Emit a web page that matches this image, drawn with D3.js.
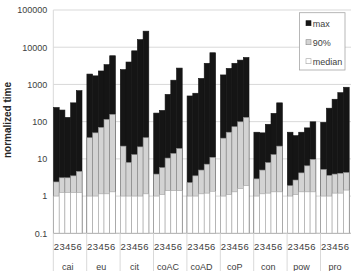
<!DOCTYPE html>
<html>
<head>
<meta charset="utf-8">
<script src="https://cdn.jsdelivr.net/npm/d3@7"></script>
<style>
    html, body { margin: 0; padding: 0; background: #fff; }
    svg { display: block; font-family: "Liberation Sans", Arial, sans-serif; }
</style>
</head>
<body>
<div id="chart"></div>
<script>
// Normalized time per benchmark, for 2..6 (max / 90th percentile / median)
const groups = ["cai", "eu", "cit", "coAC", "coAD", "coP", "con", "pow", "pro"];
const ranks = ["2", "3", "4", "5", "6"];
const yTicks = [0.1, 1, 10, 100, 1000, 10000, 100000];

const maxValues = [
    [240, 205, 130, 320, 680],
    [1900, 1700, 2300, 3400, 5900],
    [2500, 4000, 8000, 16000, 27000],
    [170, 200, 540, 1300, 2750],
    [490, 580, 1450, 3700, 7100],
    [1800, 2700, 3700, 4500, 5300],
    [52, 50, 85, 167, 320],
    [52, 42, 52, 68, 99],
    [96, 230, 400, 600, 840]
];
const p90Values = [
    [2.4, 3.1, 3.1, 3.5, 4.6],
    [37, 50, 70, 115, 157],
    [22, 8, 13, 21, 37],
    [3.9, 5.8, 10.5, 14, 19],
    [2.3, 3.5, 5, 7.2, 11],
    [36, 52, 73, 99, 130],
    [2.9, 5, 7.9, 13, 22],
    [1.9, 2.7, 4.2, 6.5, 9.7],
    [5.2, 3.6, 3.9, 4.1, 4.3]
];
const medianValues = [
    [1, 1.25, 1.25, 1.25, 1.25],
    [1, 1, 1.15, 1.15, 1.3],
    [1, 1, 1, 1, 1.15],
    [1, 1.1, 1.4, 1.4, 1.4],
    [1, 1, 1.15, 1.2, 1.35],
    [1, 1.1, 1.3, 1.6, 1.9],
    [1, 1.15, 1.2, 1.3, 1.3],
    [1, 1.1, 1.3, 1.3, 1.3],
    [1, 1, 1.2, 1.2, 1.45]
];

const series = [
    { key: "max", values: maxValues, fill: "#151515", stroke: "#151515" },
    { key: "90%", values: p90Values, fill: "#d3d3d3", stroke: "#8a8a8a" },
    { key: "median", values: medianValues, fill: "#ffffff", stroke: "#a3a3a3" }
];

const width = 351, height = 271;
const plot = { left: 53.3, right: 351, top: 10, bottom: 233.3 };

const svg = d3.select("#chart").append("svg")
    .attr("width", width)
    .attr("height", height);

const y = d3.scaleLog()
    .domain([0.1, 100000])
    .range([plot.bottom, plot.top]);

// group pitch runs a bit past the right edge (picture is cropped there)
const x0 = d3.scaleBand()
    .domain(groups)
    .range([plot.left, plot.left + 33.4 * groups.length]);

const x1 = d3.scaleBand()
    .domain(ranks)
    .range([0.2, 28.7]);

// gridlines
svg.append("g")
    .selectAll("line")
    .data(yTicks)
    .enter().append("line")
    .attr("x1", plot.left)
    .attr("x2", plot.right)
    .attr("y1", d => y(d))
    .attr("y2", d => y(d))
    .attr("stroke", "#d9d9d9")
    .attr("stroke-width", 1);

// left axis line
svg.append("line")
    .attr("x1", plot.left).attr("x2", plot.left)
    .attr("y1", y(100000)).attr("y2", y(0.1))
    .attr("stroke", "#d9d9d9");

// bars: max first, then 90%, then median on top
series.forEach(s => {
    const flat = [];
    groups.forEach((g, gi) => {
        ranks.forEach((r, ri) => flat.push({ g, r, v: s.values[gi][ri] }));
    });
    svg.append("g")
        .selectAll("rect")
        .data(flat)
        .enter().append("rect")
        .attr("x", d => x0(d.g) + x1(d.r))
        .attr("y", d => y(d.v))
        .attr("width", x1.bandwidth())
        .attr("height", d => y(0.1) - y(d.v))
        .attr("fill", s.fill)
        .attr("stroke", s.stroke)
        .attr("stroke-width", 0.6);
});

// category axis line
svg.append("line")
    .attr("x1", plot.left).attr("x2", plot.right)
    .attr("y1", y(0.1)).attr("y2", y(0.1))
    .attr("stroke", "#bfbfbf");

// group separators down to the bottom
svg.append("g")
    .selectAll("line")
    .data(groups)
    .enter().append("line")
    .attr("x1", d => x0(d))
    .attr("x2", d => x0(d))
    .attr("y1", y(0.1))
    .attr("y2", height)
    .attr("stroke", "#d9d9d9");

// y axis labels
const yAxis = d3.axisLeft(y)
    .tickValues(yTicks)
    .tickFormat(d => String(d))
    .tickSize(0)
    .tickPadding(6);

svg.append("g")
    .attr("transform", `translate(${plot.left},0)`)
    .call(yAxis)
    .call(g => g.select(".domain").remove())
    .call(g => g.selectAll("text")
        .attr("font-size", 9)
        .attr("font-family", "'Liberation Sans', Arial, sans-serif")
        .attr("fill", "#404040"));

// rank digits under each bar
const rankLabels = [];
groups.forEach(g => ranks.forEach(r => rankLabels.push({ g, r })));
svg.append("g")
    .selectAll("text")
    .data(rankLabels)
    .enter().append("text")
    .attr("x", d => x0(d.g) + x1(d.r) + x1.bandwidth() / 2)
    .attr("y", 250)
    .attr("text-anchor", "middle")
    .attr("font-size", 9.5)
    .attr("fill", "#404040")
    .text(d => d.r);

// group names
svg.append("g")
    .selectAll("text")
    .data(groups)
    .enter().append("text")
    .attr("x", d => x0(d) + 14.5)
    .attr("y", 269.5)
    .attr("text-anchor", "middle")
    .attr("font-size", 9)
    .attr("fill", "#404040")
    .text(d => d);

// y title
svg.append("text")
    .attr("transform", "translate(11,120) rotate(-90)")
    .attr("text-anchor", "middle")
    .attr("font-size", 10)
    .attr("font-weight", "bold")
    .attr("fill", "#262626")
    .text("normalized time");

// legend
const legend = svg.append("g").attr("transform", "translate(299.5,12.7)");
legend.append("rect")
    .attr("width", 45.5)
    .attr("height", 57.3)
    .attr("fill", "#fff")
    .attr("stroke", "#a6a6a6")
    .attr("stroke-width", 0.8);

const item = legend.selectAll(".item")
    .data(series)
    .enter().append("g")
    .attr("class", "item")
    .attr("transform", (d, i) => `translate(6.5,${10.5 + i * 19})`);

item.append("rect")
    .attr("y", -2.5)
    .attr("width", 5)
    .attr("height", 5)
    .attr("fill", d => d.fill)
    .attr("stroke", d => d.stroke)
    .attr("stroke-width", 0.6);

item.append("text")
    .attr("x", 6.7)
    .attr("y", 3.3)
    .attr("font-size", 9)
    .attr("fill", "#404040")
    .text(d => d.key);
</script>
</body>
</html>
